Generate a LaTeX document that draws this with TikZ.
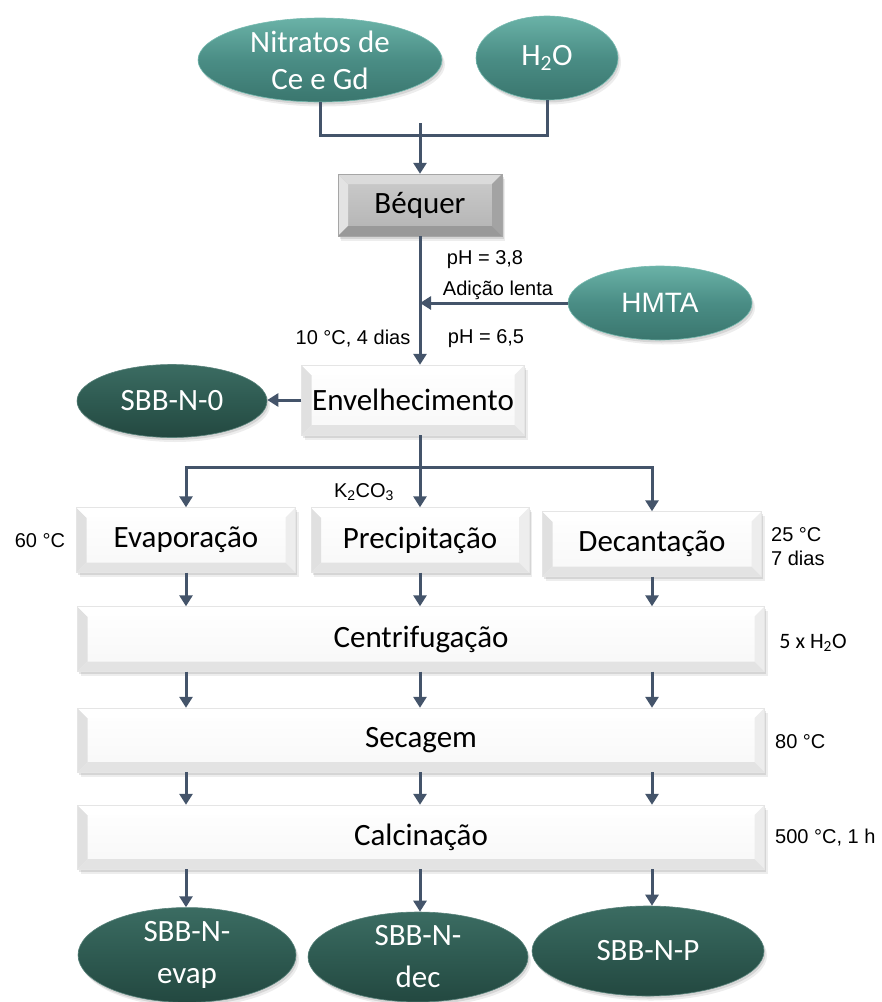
\documentclass[tikz,border=0pt]{standalone}
\usepackage{fontspec}
\setmainfont{Carlito}
\newfontfamily\arialf{Liberation Sans}
\usetikzlibrary{shapes.geometric,arrows.meta,shadows}

\definecolor{linec}{HTML}{44546A}
\definecolor{tealA}{HTML}{6AB2A7}
\definecolor{tealB}{HTML}{4A8D85}
\definecolor{tealC}{HTML}{3A766E}
\definecolor{tealL}{HTML}{8ACDC2}
\definecolor{darkA}{HTML}{3B6C62}
\definecolor{darkB}{HTML}{2E5A51}
\definecolor{darkC}{HTML}{234840}

\tikzset{
  softshadow/.style={
    general shadow={fill=black, opacity=0.10, shadow xshift=1.5pt, shadow yshift=-2.5pt},
    general shadow={fill=black, opacity=0.07, shadow xshift=3pt, shadow yshift=-4.5pt}},
  % bevelled rectangle: colours of the left, top, right and bottom facets
  bevelpic/.style n args={4}{path picture={
    \coordinate (pSW) at (path picture bounding box.south west);
    \coordinate (pNW) at (path picture bounding box.north west);
    \coordinate (pNE) at (path picture bounding box.north east);
    \coordinate (pSE) at (path picture bounding box.south east);
    \coordinate (iSW) at ([xshift=10pt,yshift=10pt]pSW);
    \coordinate (iNW) at ([xshift=10pt,yshift=-10pt]pNW);
    \coordinate (iNE) at ([xshift=-10pt,yshift=-10pt]pNE);
    \coordinate (iSE) at ([xshift=-10pt,yshift=10pt]pSE);
    \fill[#1] (pSW) -- (pNW) -- (iNW) -- (iSW) -- cycle;
    \fill[#2] (pNW) -- (pNE) -- (iNE) -- (iNW) -- cycle;
    \fill[#3] (pNE) -- (pSE) -- (iSE) -- (iNE) -- cycle;
    \fill[#4] (pSE) -- (pSW) -- (iSW) -- (iSE) -- cycle;
  }},
  conn/.style={draw=linec, line width=3pt},
  arr/.style={conn, -{Triangle[width=13pt,length=11pt]}},
  seedell/.style={ellipse, inner sep=0pt, text=white, align=center,
    font=\fontsize{31}{37}\selectfont, softshadow,
    top color=tealA, bottom color=tealC, middle color=tealB,
    draw=tealL!70!tealB, line width=0.6pt},
  prodell/.style={ellipse, inner sep=0pt, text=white, align=center,
    font=\fontsize{31}{42}\selectfont, softshadow,
    top color=darkA, bottom color=darkC, middle color=darkB,
    draw=darkA!85!white, line width=0.6pt},
  whitebox/.style={rectangle, inner sep=0pt, font=\fontsize{31}{36}\selectfont,
    softshadow, top color=white, bottom color=black!3,
    draw=black!10, line width=0.4pt,
    bevelpic={black!12}{white}{black!7}{black!11}},
  graybox/.style={rectangle, inner sep=0pt, font=\fontsize{31}{36}\selectfont,
    softshadow, top color=black!20, bottom color=black!30,
    draw=black!35, line width=0.4pt,
    bevelpic={black!11}{black!14}{black!36}{black!40}},
  note/.style={inner sep=0pt, font=\arialf\fontsize{20}{24}\selectfont},
}

\begin{document}
\begin{tikzpicture}[x=1pt, y=-1pt]
\useasboundingbox (0,0) rectangle (882,1002);

% starting materials
\node[seedell, minimum width=244pt, minimum height=84pt] (nitr) at (320,60) {Nitratos de\\Ce e Gd};
\node[seedell, minimum width=142pt, minimum height=84pt] (h2o) at (547,58) {H\textsubscript{2}O};
\node[seedell, minimum width=184pt, minimum height=74pt, font=\arialf\fontsize{28}{34}\selectfont] (hmta) at (660,303) {HMTA};

% process steps
\node[graybox, minimum width=164pt, minimum height=62pt] (beq) at (420,205) {Béquer};
\node[whitebox, minimum width=223pt, minimum height=70pt] (envel) at (413,400) {Envelhecimento};
\node[whitebox, minimum width=219pt, minimum height=65pt] (evap) at (186,540) {Evaporação};
\node[whitebox, minimum width=218pt, minimum height=65pt] (prec) at (420,540) {Precipitação};
\node[whitebox, minimum width=219pt, minimum height=65pt] (dec) at (652,544) {Decantação};
\node[whitebox, minimum width=687pt, minimum height=65pt] (centr) at (421,639) {Centrifugação};
\node[whitebox, minimum width=687pt, minimum height=64pt] (sec) at (421,740) {Secagem};
\node[whitebox, minimum width=687pt, minimum height=64pt] (calc) at (421,837) {Calcinação};

% products
\node[prodell, minimum width=190pt, minimum height=73pt] (sbb0) at (172,401) {SBB-N-0};
\node[prodell, minimum width=218pt, minimum height=90pt] (outevap) at (187,955) {SBB-N-\\evap};
\node[prodell, minimum width=220pt, minimum height=90pt] (outdec) at (418,957) {SBB-N-\\dec};
\node[prodell, minimum width=232pt, minimum height=90pt] (outp) at (648,951) {SBB-N-P};

% junction points
\coordinate (jt) at (420,123);
\coordinate (jm) at (420,467);

% connectors
\draw[conn] (nitr.south) -- ++(0,33) -| (h2o.south);
\draw[arr] (jt) -- (beq.north);
\draw[arr] (beq.south) -- (beq.south |- envel.north);
\draw[arr] (hmta.west) -- (hmta.west -| beq.south);
\draw[arr] (envel.west) -- (envel.west -| sbb0.east);
\draw[conn] (beq.south |- envel.south) -- (jm);
\draw[arr] (jm) -| (evap.north);
\draw[arr] (jm) -| (dec.north);
\draw[arr] (jm) -- (prec.north);

\foreach \c in {evap,prec,dec}{
  \draw[arr] (\c.south) -- (\c.south |- centr.north);
  \draw[arr] (centr.south -| \c.south) -- (sec.north -| \c.south);
  \draw[arr] (sec.south -| \c.south) -- (calc.north -| \c.south);
}
\draw[arr] (calc.south -| evap.south) -- (outevap.north -| evap.south);
\draw[arr] (calc.south -| prec.south) -- (outdec.north -| prec.south);
\draw[arr] (calc.south -| dec.south) -- (outp.north -| dec.south);

% conditions
\node[note] (ph1) at (485,260) {pH = 3,8};
\node[note] (adl) at (498,290) {Adição lenta};
\node[note] (ph2) at (486,339) {pH = 6,5};
\node[note] (tdias) at (353,339) {10 °C, 4 dias};
\node[note] (k2) at (364,492) {K\textsubscript{2}CO\textsubscript{3}};
\node[note] (t60) at (40,541) {60 °C};
\node[note, align=left, anchor=west] (t25) at (771,547) {25 °C\\7 dias};
\node[note, font=\fontsize{22}{26}\selectfont] (wash) at (813,643) {5 x H\textsubscript{2}O};
\node[note, anchor=west] (t80) at (775,742) {80 °C};
\node[note, anchor=west] (t500) at (775,838) {500 °C, 1 h};
\end{tikzpicture}
\end{document}
